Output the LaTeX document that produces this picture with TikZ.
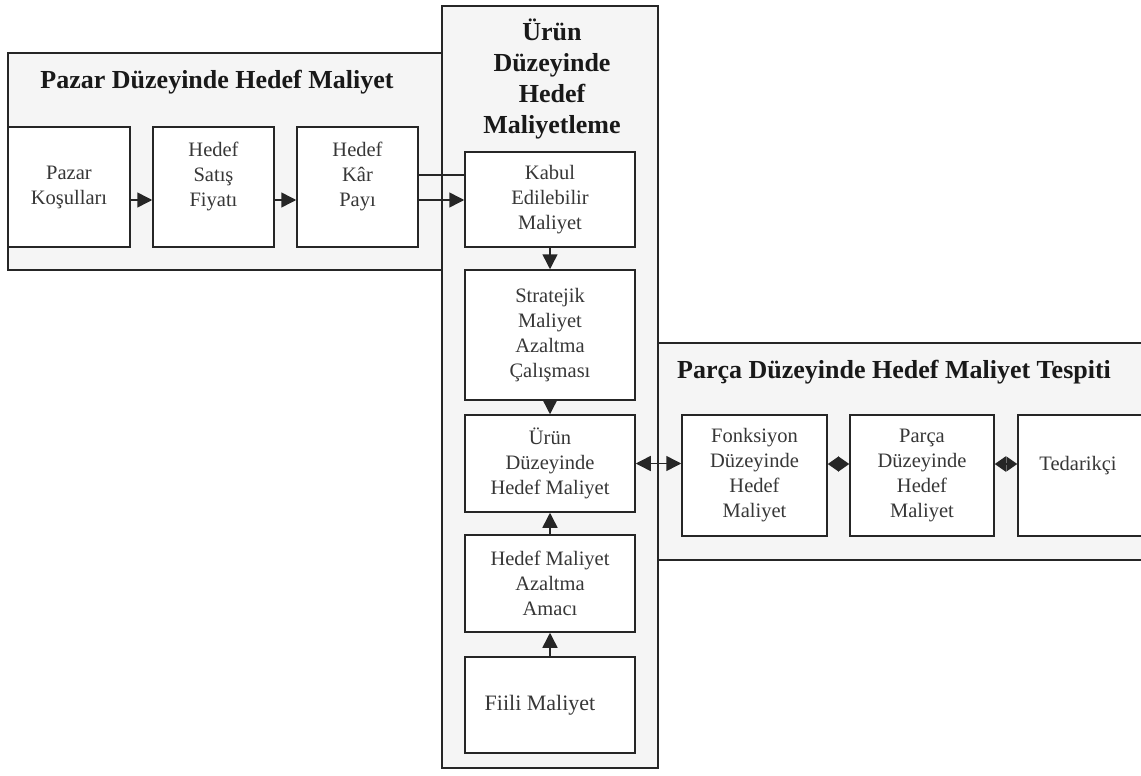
\documentclass[tikz,border=0pt]{standalone}
\usepackage{fontspec}
\setmainfont{Liberation Serif}
\usetikzlibrary{arrows.meta}
\definecolor{panelfill}{RGB}{245,245,245}
\definecolor{txtgray}{RGB}{55,55,55}
\begin{document}
\begin{tikzpicture}[x=1pt,y=-1pt,
  panel/.style={draw=black!85, line width=1.5pt, fill=panelfill},
  box/.style={draw=black!85, line width=1.5pt, fill=white, align=center,
    font=\fontsize{20.5}{25}\selectfont, text=txtgray, inner sep=0pt},
  ttl/.style={font=\fontsize{26}{31}\selectfont\bfseries, align=center, text=black!90},
  con/.style={line width=1.5pt, draw=black!85},
  arr/.style={con, -{Triangle[length=15pt,width=15pt]}},
  darr/.style={con, {Triangle[length=15pt,width=15pt]}-{Triangle[length=15pt,width=15pt]}},
  sdarr/.style={con, {Triangle[length=11pt,width=15pt]}-{Triangle[length=11pt,width=15pt]}}]
\useasboundingbox (0,0) rectangle (1141,776);
\clip (0,0) rectangle (1141,776);
\fill[white] (0,0) rectangle (1141,776);

% panels
\draw[panel] (8,53) rectangle (442,270);
\draw[panel] (658,343) rectangle (1150,560);
\draw[panel] (442,6) rectangle (658,768);

% titles
\node[ttl] (tpazar) at (217,82) {Pazar Düzeyinde Hedef Maliyet};
\node[ttl] (turun) at (552,79) {Ürün\\Düzeyinde\\Hedef\\Maliyetleme};
\node[ttl] (tparca) at (894,372) {Parça Düzeyinde Hedef Maliyet Tespiti};

% market boxes
\node[box, minimum width=122pt, minimum height=120pt] (b1) at (69,187) {Pazar\\Koşulları};
\node[box, minimum width=121pt, minimum height=120pt] (b2) at (213.5,187) {Hedef\\Satış\\Fiyatı\\\mbox{}};
\node[box, minimum width=121pt, minimum height=120pt] (b3) at (357.5,187) {Hedef\\Kâr\\Payı\\\mbox{}};

% product boxes
\node[box, minimum width=170pt, minimum height=95pt] (kabul) at (550,199.5) {Kabul\\Edilebilir\\Maliyet};
\node[box, minimum width=170pt, minimum height=130pt] (strat) at (550,335) {Stratejik\\Maliyet\\Azaltma\\Çalışması};
\node[box, minimum width=170pt, minimum height=97pt] (urun) at (550,463.5) {Ürün\\Düzeyinde\\Hedef Maliyet};
\node[box, minimum width=170pt, minimum height=97pt] (azal) at (550,583.5) {Hedef Maliyet\\Azaltma\\Amacı};
\node[box, minimum width=170pt, minimum height=96pt, font=\fontsize{22}{26}\selectfont] (fiili) at (550,705) {Fiili Maliyet\hspace*{20pt}};

% part boxes
\node[box, minimum width=145pt, minimum height=121pt] (fonk) at (754.5,475.5) {Fonksiyon\\Düzeyinde\\Hedef\\Maliyet};
\node[box, minimum width=144pt, minimum height=121pt] (parca) at (922,475.5) {Parça\\Düzeyinde\\Hedef\\Maliyet};
\node[box, minimum width=132pt, minimum height=121pt] (ted) at (1084,475.5) {Tedarikçi\hspace*{12pt}\\\mbox{}};

% connectors
\draw[arr] ([yshift=-13pt]b1.east) -- ([yshift=-13pt]b2.west);
\draw[arr] ([yshift=-13pt]b2.east) -- ([yshift=-13pt]b3.west);
\draw[con] ([yshift=12pt]b3.east) -- ([yshift=12pt]b3.east -| kabul.west);
\draw[arr] ([yshift=-13pt]b3.east) -- ([yshift=-13pt]b3.east -| kabul.west);
\draw[arr] (kabul.south) -- (strat.north);
\draw[arr] (strat.south) -- (urun.north);
\draw[arr] (azal.north) -- (urun.south);
\draw[arr] (fiili.north) -- (azal.south);
\draw[darr] (urun.east) -- (urun.east -| fonk.west);
\draw[sdarr] ([yshift=11.5pt]fonk.east) -- ([yshift=11.5pt]parca.west);
\draw[sdarr] ([yshift=11.5pt]parca.east) -- ([yshift=11.5pt]ted.west);
\end{tikzpicture}
\end{document}
